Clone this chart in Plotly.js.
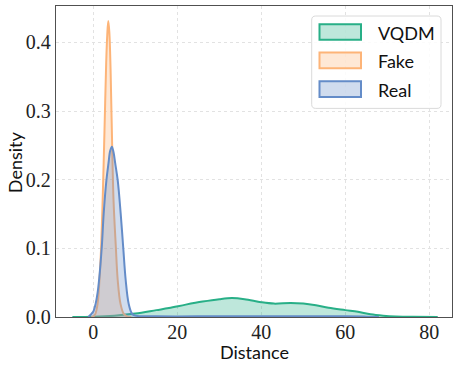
<!DOCTYPE html>
<html>
<head>
<meta charset="utf-8">
<script src="https://cdn.plot.ly/plotly-3.0.1.min.js"></script>
<style>html,body{margin:0;padding:0;background:#fff}#chart{width:459px;height:367px}</style>
</head>
<body>
<div id="chart"></div>
<script>
// ---- data (kernel density estimates) ----
const seriesNames = ["VQDM", "Fake", "Real"];
const xTitle = "Distance";
const yTitle = "Density";

const vqdmX = [-5, 0, 5, 10, 15, 18, 22, 26, 30, 33, 36, 40, 43, 47, 50, 53, 56, 60, 63, 66, 69, 72, 76, 82];
const vqdmY = [0.0, 0.0005, 0.002, 0.005, 0.010, 0.013, 0.018, 0.0225, 0.026, 0.0275, 0.026, 0.0215, 0.0195, 0.0205, 0.0195, 0.017, 0.0135, 0.010, 0.0075, 0.004, 0.002, 0.0008, 0.0002, 0.0];

const fakeX = [-0.5, 0.0, 0.5, 1.0, 1.45, 1.85, 2.3, 2.65, 3.05, 3.3, 3.55, 3.8, 4.1, 4.4, 4.8, 5.35, 5.8, 6.45, 7.2, 8.0, 9.0];
const fakeY = [0.0, 0.001, 0.005, 0.019, 0.0535, 0.102, 0.19, 0.272, 0.37, 0.41, 0.431, 0.415, 0.36, 0.272, 0.17, 0.102, 0.0535, 0.0195, 0.005, 0.001, 0.0];

const realX = [-1.2, -0.4, 0.0, 0.55, 1.0, 1.35, 2.0, 2.46, 3.1, 3.6, 4.0, 4.4, 4.8, 5.2, 5.8, 6.5, 7.1, 7.7, 8.4, 9.2, 10, 15, 30, 45, 60, 65, 68];
const realY = [0.0, 0.005, 0.008, 0.0195, 0.035, 0.0535, 0.102, 0.151, 0.199, 0.224, 0.242, 0.248, 0.24, 0.224, 0.199, 0.151, 0.102, 0.0535, 0.0195, 0.005, 0.002, 0.001, 0.001, 0.001, 0.001, 0.0005, 0.0];

const xTicks = [0, 20, 40, 60, 80];
const yTicks = [0.0, 0.1, 0.2, 0.3, 0.4];
const yTickText = ["0.0", "0.1", "0.2", "0.3", "0.4"];

// ---- styles ----
const lineColors = ["rgb(40,175,135)", "rgb(253,180,120)", "rgb(100,140,200)"];
const fillColors = ["rgba(40,175,135,0.3)", "rgba(253,180,120,0.3)", "rgba(100,140,200,0.3)"];
const xs = [vqdmX, fakeX, realX];
const ys = [vqdmY, fakeY, realY];

const traces = xs.map((x, i) => ({
  type: "scatter", mode: "lines", x: x, y: ys[i], name: seriesNames[i],
  line: {color: lineColors[i], width: 2, shape: "spline", smoothing: 1},
  fill: "tozeroy", fillcolor: fillColors[i], showlegend: false, hoverinfo: "skip"
}));

const W = 459, H = 367, L = 56, R = 7, T = 6, B = 50.3;
const pw = W - L - R, ph = H - T - B;
const px2x = p => (p - L) / pw;
const py2y = p => (H - B - p) / ph;
const sansFont = {family: "Lato, 'Liberation Sans', sans-serif", size: 18, color: "#111"};

// legend drawn with shapes + annotations
const shapes = [];
const annotations = [];
function roundRect(x0, y0, x1, y1, r) {
  const rx = r / pw, ry = r / ph;
  const a = px2x(x0), b = px2x(x1), c = py2y(y0), d = py2y(y1);
  return `M${a+rx},${c} L${b-rx},${c} Q${b},${c} ${b},${c-ry} L${b},${d+ry} Q${b},${d} ${b-rx},${d} L${a+rx},${d} Q${a},${d} ${a},${d+ry} L${a},${c-ry} Q${a},${c} ${a+rx},${c} Z`;
}
shapes.push({type: "path", xref: "paper", yref: "paper", path: roundRect(311.7, 16, 441, 108.3, 4),
  line: {color: "rgb(218,218,218)", width: 1}, fillcolor: "rgba(255,255,255,0.85)"});
const rowY = [32, 60.3, 89];
seriesNames.forEach((n, i) => {
  shapes.push({type: "rect", xref: "paper", yref: "paper",
    x0: px2x(319.5), x1: px2x(361), y0: py2y(rowY[i] - 7.8), y1: py2y(rowY[i] + 7.8),
    line: {color: lineColors[i], width: 2}, fillcolor: fillColors[i]});
  annotations.push({xref: "paper", yref: "paper", x: px2x(376), y: py2y(rowY[i] + 1), xanchor: "left", yanchor: "middle",
    text: n, showarrow: false, font: sansFont});
});
// axis titles as annotations for exact placement
annotations.push({xref: "paper", yref: "paper", x: px2x(254), y: py2y(352), xanchor: "center", yanchor: "middle",
  text: xTitle, showarrow: false, font: sansFont});
annotations.push({xref: "paper", yref: "paper", x: px2x(15), y: py2y(162), xanchor: "center", yanchor: "middle",
  text: yTitle, textangle: -90, showarrow: false, font: sansFont});

const gridStyle = {showgrid: true, gridcolor: "rgb(226,226,226)", griddash: "dot", gridwidth: 1};
const tickFont = {family: "'Liberation Serif', 'DejaVu Serif', serif", size: 20, color: "#222"};
const layout = {
  width: W, height: H,
  margin: {l: L, r: R, t: T, b: B, pad: 0},
  paper_bgcolor: "#fff", plot_bgcolor: "#fff",
  showlegend: false,
  xaxis: Object.assign({
    range: [-8.9, 85.4], tickvals: xTicks, ticktext: xTicks.map(String),
    zeroline: false, showline: true, mirror: true, linecolor: "rgb(80,80,80)", linewidth: 1.2,
    ticks: "", ticklabelstandoff: -3, tickfont: tickFont
  }, gridStyle),
  yaxis: Object.assign({
    range: [0, 0.453], tickvals: yTicks, ticktext: yTickText,
    zeroline: false, showline: true, mirror: true, linecolor: "rgb(80,80,80)", linewidth: 1.2,
    ticks: "", tickfont: tickFont
  }, gridStyle),
  shapes: shapes, annotations: annotations
};

Plotly.newPlot("chart", traces, layout, {displayModeBar: false, staticPlot: true});
</script>
</body>
</html>
